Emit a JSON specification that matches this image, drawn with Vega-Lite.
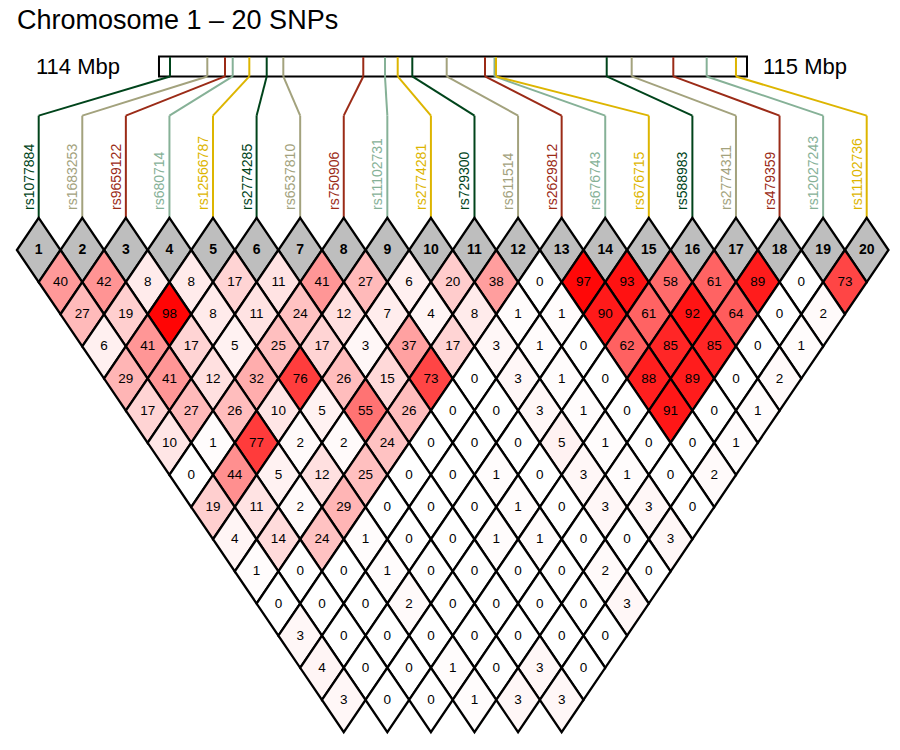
{
  "$schema": "https://vega.github.io/schema/vega-lite/v6.json",
  "width": 900,
  "height": 750,
  "autosize": "none",
  "padding": 0,
  "config": {"view": {"stroke": null}, "font": "Liberation Sans"},
  "datasets": {
    "heading": [{"title": "Chromosome 1 – 20 SNPs"}],
    "map": [{"start": 3.76, "end": 17.253, "left": "114 Mbp", "right": "115 Mbp"}],
    "snps": [
      {"snp": 1, "id": "rs1077884", "map": 4.013},
      {"snp": 2, "id": "rs1683253", "map": 4.869},
      {"snp": 3, "id": "rs9659122", "map": 5.275},
      {"snp": 4, "id": "rs680714", "map": 5.452},
      {"snp": 5, "id": "rs12566787", "map": 5.833},
      {"snp": 6, "id": "rs2774285", "map": 6.232},
      {"snp": 7, "id": "rs6537810", "map": 6.613},
      {"snp": 8, "id": "rs750906", "map": 8.448},
      {"snp": 9, "id": "rs11102731", "map": 8.946},
      {"snp": 10, "id": "rs2774281", "map": 9.238},
      {"snp": 11, "id": "rs729300", "map": 9.573},
      {"snp": 12, "id": "rs611514", "map": 10.362},
      {"snp": 13, "id": "rs2629812", "map": 11.241},
      {"snp": 14, "id": "rs676743", "map": 11.459},
      {"snp": 15, "id": "rs676715", "map": 11.494},
      {"snp": 16, "id": "rs588983", "map": 14.034},
      {"snp": 17, "id": "rs2774311", "map": 14.607},
      {"snp": 18, "id": "rs479359", "map": 15.562},
      {"snp": 19, "id": "rs12027243", "map": 16.328},
      {"snp": 20, "id": "rs11102736", "map": 17.0}
    ],
    "ld": [
      {"i":1,"j":2,"m":1.5,"d":1,"v":40},{"i":2,"j":3,"m":2.5,"d":1,"v":42},{"i":3,"j":4,"m":3.5,"d":1,"v":8},{"i":4,"j":5,"m":4.5,"d":1,"v":8},{"i":5,"j":6,"m":5.5,"d":1,"v":17},{"i":6,"j":7,"m":6.5,"d":1,"v":11},{"i":7,"j":8,"m":7.5,"d":1,"v":41},{"i":8,"j":9,"m":8.5,"d":1,"v":27},{"i":9,"j":10,"m":9.5,"d":1,"v":6},{"i":10,"j":11,"m":10.5,"d":1,"v":20},{"i":11,"j":12,"m":11.5,"d":1,"v":38},{"i":12,"j":13,"m":12.5,"d":1,"v":0},{"i":13,"j":14,"m":13.5,"d":1,"v":97},{"i":14,"j":15,"m":14.5,"d":1,"v":93},{"i":15,"j":16,"m":15.5,"d":1,"v":58},{"i":16,"j":17,"m":16.5,"d":1,"v":61},{"i":17,"j":18,"m":17.5,"d":1,"v":89},{"i":18,"j":19,"m":18.5,"d":1,"v":0},{"i":19,"j":20,"m":19.5,"d":1,"v":73},
      {"i":1,"j":3,"m":2,"d":2,"v":27},{"i":2,"j":4,"m":3,"d":2,"v":19},{"i":3,"j":5,"m":4,"d":2,"v":98},{"i":4,"j":6,"m":5,"d":2,"v":8},{"i":5,"j":7,"m":6,"d":2,"v":11},{"i":6,"j":8,"m":7,"d":2,"v":24},{"i":7,"j":9,"m":8,"d":2,"v":12},{"i":8,"j":10,"m":9,"d":2,"v":7},{"i":9,"j":11,"m":10,"d":2,"v":4},{"i":10,"j":12,"m":11,"d":2,"v":8},{"i":11,"j":13,"m":12,"d":2,"v":1},{"i":12,"j":14,"m":13,"d":2,"v":1},{"i":13,"j":15,"m":14,"d":2,"v":90},{"i":14,"j":16,"m":15,"d":2,"v":61},{"i":15,"j":17,"m":16,"d":2,"v":92},{"i":16,"j":18,"m":17,"d":2,"v":64},{"i":17,"j":19,"m":18,"d":2,"v":0},{"i":18,"j":20,"m":19,"d":2,"v":2},
      {"i":1,"j":4,"m":2.5,"d":3,"v":6},{"i":2,"j":5,"m":3.5,"d":3,"v":41},{"i":3,"j":6,"m":4.5,"d":3,"v":17},{"i":4,"j":7,"m":5.5,"d":3,"v":5},{"i":5,"j":8,"m":6.5,"d":3,"v":25},{"i":6,"j":9,"m":7.5,"d":3,"v":17},{"i":7,"j":10,"m":8.5,"d":3,"v":3},{"i":8,"j":11,"m":9.5,"d":3,"v":37},{"i":9,"j":12,"m":10.5,"d":3,"v":17},{"i":10,"j":13,"m":11.5,"d":3,"v":3},{"i":11,"j":14,"m":12.5,"d":3,"v":1},{"i":12,"j":15,"m":13.5,"d":3,"v":0},{"i":13,"j":16,"m":14.5,"d":3,"v":62},{"i":14,"j":17,"m":15.5,"d":3,"v":85},{"i":15,"j":18,"m":16.5,"d":3,"v":85},{"i":16,"j":19,"m":17.5,"d":3,"v":0},{"i":17,"j":20,"m":18.5,"d":3,"v":1},
      {"i":1,"j":5,"m":3,"d":4,"v":29},{"i":2,"j":6,"m":4,"d":4,"v":41},{"i":3,"j":7,"m":5,"d":4,"v":12},{"i":4,"j":8,"m":6,"d":4,"v":32},{"i":5,"j":9,"m":7,"d":4,"v":76},{"i":6,"j":10,"m":8,"d":4,"v":26},{"i":7,"j":11,"m":9,"d":4,"v":15},{"i":8,"j":12,"m":10,"d":4,"v":73},{"i":9,"j":13,"m":11,"d":4,"v":0},{"i":10,"j":14,"m":12,"d":4,"v":3},{"i":11,"j":15,"m":13,"d":4,"v":1},{"i":12,"j":16,"m":14,"d":4,"v":0},{"i":13,"j":17,"m":15,"d":4,"v":88},{"i":14,"j":18,"m":16,"d":4,"v":89},{"i":15,"j":19,"m":17,"d":4,"v":0},{"i":16,"j":20,"m":18,"d":4,"v":2},
      {"i":1,"j":6,"m":3.5,"d":5,"v":17},{"i":2,"j":7,"m":4.5,"d":5,"v":27},{"i":3,"j":8,"m":5.5,"d":5,"v":26},{"i":4,"j":9,"m":6.5,"d":5,"v":10},{"i":5,"j":10,"m":7.5,"d":5,"v":5},{"i":6,"j":11,"m":8.5,"d":5,"v":55},{"i":7,"j":12,"m":9.5,"d":5,"v":26},{"i":8,"j":13,"m":10.5,"d":5,"v":0},{"i":9,"j":14,"m":11.5,"d":5,"v":0},{"i":10,"j":15,"m":12.5,"d":5,"v":3},{"i":11,"j":16,"m":13.5,"d":5,"v":1},{"i":12,"j":17,"m":14.5,"d":5,"v":0},{"i":13,"j":18,"m":15.5,"d":5,"v":91},{"i":14,"j":19,"m":16.5,"d":5,"v":0},{"i":15,"j":20,"m":17.5,"d":5,"v":1},
      {"i":1,"j":7,"m":4,"d":6,"v":10},{"i":2,"j":8,"m":5,"d":6,"v":1},{"i":3,"j":9,"m":6,"d":6,"v":77},{"i":4,"j":10,"m":7,"d":6,"v":2},{"i":5,"j":11,"m":8,"d":6,"v":2},{"i":6,"j":12,"m":9,"d":6,"v":24},{"i":7,"j":13,"m":10,"d":6,"v":0},{"i":8,"j":14,"m":11,"d":6,"v":0},{"i":9,"j":15,"m":12,"d":6,"v":0},{"i":10,"j":16,"m":13,"d":6,"v":5},{"i":11,"j":17,"m":14,"d":6,"v":1},{"i":12,"j":18,"m":15,"d":6,"v":0},{"i":13,"j":19,"m":16,"d":6,"v":0},{"i":14,"j":20,"m":17,"d":6,"v":1},
      {"i":1,"j":8,"m":4.5,"d":7,"v":0},{"i":2,"j":9,"m":5.5,"d":7,"v":44},{"i":3,"j":10,"m":6.5,"d":7,"v":5},{"i":4,"j":11,"m":7.5,"d":7,"v":12},{"i":5,"j":12,"m":8.5,"d":7,"v":25},{"i":6,"j":13,"m":9.5,"d":7,"v":0},{"i":7,"j":14,"m":10.5,"d":7,"v":0},{"i":8,"j":15,"m":11.5,"d":7,"v":1},{"i":9,"j":16,"m":12.5,"d":7,"v":0},{"i":10,"j":17,"m":13.5,"d":7,"v":3},{"i":11,"j":18,"m":14.5,"d":7,"v":1},{"i":12,"j":19,"m":15.5,"d":7,"v":0},{"i":13,"j":20,"m":16.5,"d":7,"v":2},
      {"i":1,"j":9,"m":5,"d":8,"v":19},{"i":2,"j":10,"m":6,"d":8,"v":11},{"i":3,"j":11,"m":7,"d":8,"v":2},{"i":4,"j":12,"m":8,"d":8,"v":29},{"i":5,"j":13,"m":9,"d":8,"v":0},{"i":6,"j":14,"m":10,"d":8,"v":0},{"i":7,"j":15,"m":11,"d":8,"v":0},{"i":8,"j":16,"m":12,"d":8,"v":1},{"i":9,"j":17,"m":13,"d":8,"v":0},{"i":10,"j":18,"m":14,"d":8,"v":3},{"i":11,"j":19,"m":15,"d":8,"v":3},{"i":12,"j":20,"m":16,"d":8,"v":0},
      {"i":1,"j":10,"m":5.5,"d":9,"v":4},{"i":2,"j":11,"m":6.5,"d":9,"v":14},{"i":3,"j":12,"m":7.5,"d":9,"v":24},{"i":4,"j":13,"m":8.5,"d":9,"v":1},{"i":5,"j":14,"m":9.5,"d":9,"v":0},{"i":6,"j":15,"m":10.5,"d":9,"v":0},{"i":7,"j":16,"m":11.5,"d":9,"v":1},{"i":8,"j":17,"m":12.5,"d":9,"v":1},{"i":9,"j":18,"m":13.5,"d":9,"v":0},{"i":10,"j":19,"m":14.5,"d":9,"v":0},{"i":11,"j":20,"m":15.5,"d":9,"v":3},
      {"i":1,"j":11,"m":6,"d":10,"v":1},{"i":2,"j":12,"m":7,"d":10,"v":0},{"i":3,"j":13,"m":8,"d":10,"v":0},{"i":4,"j":14,"m":9,"d":10,"v":1},{"i":5,"j":15,"m":10,"d":10,"v":0},{"i":6,"j":16,"m":11,"d":10,"v":0},{"i":7,"j":17,"m":12,"d":10,"v":0},{"i":8,"j":18,"m":13,"d":10,"v":0},{"i":9,"j":19,"m":14,"d":10,"v":2},{"i":10,"j":20,"m":15,"d":10,"v":0},
      {"i":1,"j":12,"m":6.5,"d":11,"v":0},{"i":2,"j":13,"m":7.5,"d":11,"v":0},{"i":3,"j":14,"m":8.5,"d":11,"v":0},{"i":4,"j":15,"m":9.5,"d":11,"v":2},{"i":5,"j":16,"m":10.5,"d":11,"v":0},{"i":6,"j":17,"m":11.5,"d":11,"v":0},{"i":7,"j":18,"m":12.5,"d":11,"v":0},{"i":8,"j":19,"m":13.5,"d":11,"v":0},{"i":9,"j":20,"m":14.5,"d":11,"v":3},
      {"i":1,"j":13,"m":7,"d":12,"v":3},{"i":2,"j":14,"m":8,"d":12,"v":0},{"i":3,"j":15,"m":9,"d":12,"v":0},{"i":4,"j":16,"m":10,"d":12,"v":0},{"i":5,"j":17,"m":11,"d":12,"v":0},{"i":6,"j":18,"m":12,"d":12,"v":0},{"i":7,"j":19,"m":13,"d":12,"v":0},{"i":8,"j":20,"m":14,"d":12,"v":0},
      {"i":1,"j":14,"m":7.5,"d":13,"v":4},{"i":2,"j":15,"m":8.5,"d":13,"v":0},{"i":3,"j":16,"m":9.5,"d":13,"v":0},{"i":4,"j":17,"m":10.5,"d":13,"v":1},{"i":5,"j":18,"m":11.5,"d":13,"v":0},{"i":6,"j":19,"m":12.5,"d":13,"v":3},{"i":7,"j":20,"m":13.5,"d":13,"v":0},
      {"i":1,"j":15,"m":8,"d":14,"v":3},{"i":2,"j":16,"m":9,"d":14,"v":0},{"i":3,"j":17,"m":10,"d":14,"v":0},{"i":4,"j":18,"m":11,"d":14,"v":1},{"i":5,"j":19,"m":12,"d":14,"v":3},{"i":6,"j":20,"m":13,"d":14,"v":3}
    ]
  },
  "layer": [
    {
      "data": {"name": "heading"},
      "mark": {"type": "text", "align": "left", "baseline": "alphabetic", "fontSize": 27, "font": "Liberation Sans", "color": "black"},
      "encoding": {
        "x": {"datum": 0.502, "type": "quantitative", "axis": null, "scale": {"domain": [0.112, 20.764], "nice": false, "zero": false}},
        "y": {"datum": -6.876, "type": "quantitative", "axis": null, "scale": {"domain": [-7.778, 15.557], "reverse": true, "nice": false, "zero": false}},
        "text": {"field": "title"}
      }
    },
    {
      "data": {"name": "map"},
      "mark": {"type": "rect", "fill": "white", "stroke": "black", "strokeWidth": 2},
      "encoding": {
        "x": {"field": "start", "type": "quantitative"},
        "x2": {"field": "end"},
        "y": {"datum": -6.02, "type": "quantitative"},
        "y2": {"datum": -5.4}
      }
    },
    {
      "data": {"name": "map"},
      "mark": {"type": "text", "align": "right", "baseline": "middle", "dx": -39, "fontSize": 22, "font": "Liberation Sans", "color": "black"},
      "encoding": {
        "x": {"field": "start", "type": "quantitative"},
        "y": {"datum": -5.7, "type": "quantitative"},
        "text": {"field": "left"}
      }
    },
    {
      "data": {"name": "map"},
      "mark": {"type": "text", "align": "left", "baseline": "middle", "dx": 16, "fontSize": 22, "font": "Liberation Sans", "color": "black"},
      "encoding": {
        "x": {"field": "end", "type": "quantitative"},
        "y": {"datum": -5.7, "type": "quantitative"},
        "text": {"field": "right"}
      }
    },
    {
      "data": {"name": "snps"},
      "mark": {"type": "rule", "strokeWidth": 2},
      "encoding": {
        "x": {"field": "map", "type": "quantitative"},
        "y": {"datum": -6.0, "type": "quantitative"},
        "y2": {"datum": -5.4},
        "color": {"field": "snp", "type": "nominal", "legend": null, "scale": {"domain": [1,2,3,4,5,6,7,8,9,10,11,12,13,14,15,16,17,18,19,20], "range": ["#00441B","#A3A27D","#9B2B17","#86B197","#DDB500","#00441B","#A3A27D","#9B2B17","#86B197","#DDB500","#00441B","#A3A27D","#9B2B17","#86B197","#DDB500","#00441B","#A3A27D","#9B2B17","#86B197","#DDB500"]}}
      }
    },
    {
      "data": {"name": "snps"},
      "mark": {"type": "rule", "strokeWidth": 2},
      "encoding": {
        "x": {"field": "map", "type": "quantitative"},
        "x2": {"field": "snp"},
        "y": {"datum": -5.4, "type": "quantitative"},
        "y2": {"datum": -4.18},
        "color": {"field": "snp", "type": "nominal", "legend": null}
      }
    },
    {
      "data": {"name": "snps"},
      "mark": {"type": "rule", "strokeWidth": 2},
      "encoding": {
        "x": {"field": "snp", "type": "quantitative"},
        "y": {"datum": -4.18, "type": "quantitative"},
        "y2": {"datum": -1.0},
        "color": {"field": "snp", "type": "nominal", "legend": null}
      }
    },
    {
      "data": {"name": "snps"},
      "mark": {"type": "text", "angle": 270, "align": "left", "baseline": "alphabetic", "dy": -5, "fontSize": 14, "font": "Liberation Sans"},
      "encoding": {
        "x": {"field": "snp", "type": "quantitative"},
        "y": {"datum": -1.245, "type": "quantitative"},
        "text": {"field": "id"},
        "color": {"field": "snp", "type": "nominal", "legend": null}
      }
    },
    {
      "data": {"name": "snps"},
      "mark": {"type": "point", "shape": "M0,-1L0.678,0L0,1L-0.678,0Z", "size": 4132, "filled": true, "fill": "#BEBEBE", "stroke": "black", "strokeWidth": 2.3, "opacity": 1},
      "encoding": {
        "x": {"field": "snp", "type": "quantitative"},
        "y": {"datum": 0, "type": "quantitative"}
      }
    },
    {
      "data": {"name": "snps"},
      "mark": {"type": "text", "fontSize": 14, "fontWeight": "bold", "font": "Liberation Sans", "color": "black", "baseline": "middle"},
      "encoding": {
        "x": {"field": "snp", "type": "quantitative"},
        "y": {"datum": 0, "type": "quantitative"},
        "text": {"field": "snp"}
      }
    },
    {
      "data": {"name": "ld"},
      "mark": {"type": "point", "shape": "M0,-1L0.678,0L0,1L-0.678,0Z", "size": 4132, "filled": true, "stroke": "black", "strokeWidth": 2.3, "opacity": 1},
      "encoding": {
        "x": {"field": "m", "type": "quantitative"},
        "y": {"field": "d", "type": "quantitative"},
        "fill": {"field": "v", "type": "quantitative", "legend": null, "scale": {"domain": [0, 100], "range": ["#FFFFFF", "#FF0000"], "interpolate": "rgb"}}
      }
    },
    {
      "data": {"name": "ld"},
      "mark": {"type": "text", "fontSize": 13.5, "font": "Liberation Sans", "color": "black", "baseline": "middle"},
      "encoding": {
        "x": {"field": "m", "type": "quantitative"},
        "y": {"field": "d", "type": "quantitative"},
        "text": {"field": "v"}
      }
    }
  ]
}
